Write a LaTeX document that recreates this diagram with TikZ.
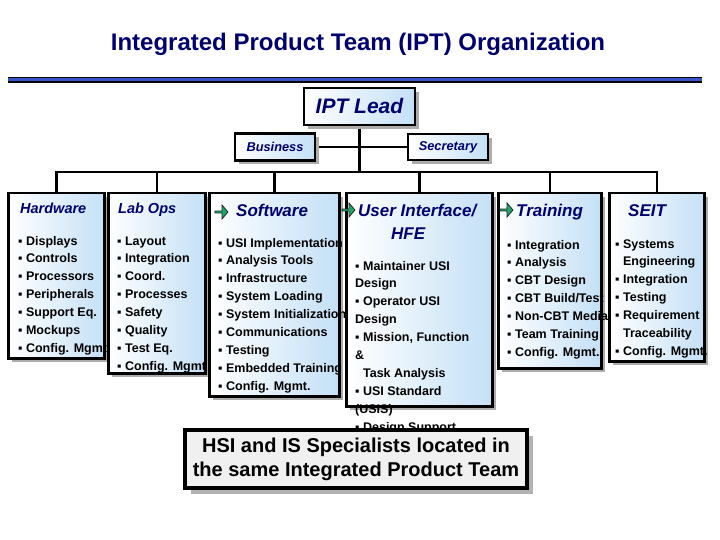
\documentclass[tikz,border=0pt]{standalone}
\usepackage{fontspec}
\setmainfont{Liberation Sans}
\usetikzlibrary{positioning,backgrounds,shadows,shapes.arrows}
\definecolor{navy}{RGB}{0,0,110}
\definecolor{boxblue}{RGB}{196,224,246}
\definecolor{ruleblue}{RGB}{55,85,200}
\definecolor{arrowgreen}{RGB}{30,165,110}
\newcommand\bul{▪\ }
\newcommand\busy{172}
\newcommand\boxtop{192}

\begin{document}
\begin{tikzpicture}[x=1pt,y=-1pt,
    orgbox/.style={draw,line width=2.5pt,left color=white,right color=boxblue,
      drop shadow={shadow xshift=4pt,shadow yshift=-4pt,fill=gray!65,opacity=1},
      inner sep=0pt},
    teambox/.style={orgbox,anchor=north west},
    teamhead/.style={anchor=base west,inner sep=0pt,text=navy,align=left,
      font=\bfseries\itshape\fontsize{17}{24}\selectfont},
    smallhead/.style={teamhead,font=\bfseries\itshape\fontsize{14.5}{17}\selectfont},
    teamlist/.style={anchor=base west,inner sep=0pt,align=left,
      font=\bfseries\fontsize{12.5}{17.9}\selectfont},
    greenarrow/.style={single arrow,draw=black!85,fill=arrowgreen,line width=0.8pt,
      minimum height=13pt,minimum width=14pt,single arrow head extend=2.5pt,
      single arrow tip angle=100,inner sep=0pt},
    orgline/.style={line width=2.5pt,line join=miter}
  ]
  \useasboundingbox (0,0) rectangle (720,540);

  % title and rule
  \node[text=navy,font=\bfseries\fontsize{24}{28}\selectfont] (title) at (358,44)
    {Integrated Product Team (IPT) Organization};
  \coordinate (ruleL) at (8,80);
  \coordinate (ruleR) at (702,80);
  \draw[line width=6pt] (ruleL) -- (ruleR);
  \draw[line width=3pt,ruleblue] (ruleL) -- (ruleR);

  % lead and staff
  \node[orgbox,minimum width=111pt,minimum height=37pt,text=navy,
    font=\bfseries\itshape\fontsize{21}{24}\selectfont] (lead) at (359.5,106.5) {IPT Lead};
  \node[orgbox,minimum width=80pt,minimum height=27pt,text=navy,
    font=\bfseries\itshape\fontsize{12.8}{15}\selectfont] (biz) at (275,147) {Business};
  \node[orgbox,minimum width=80pt,minimum height=26pt,text=navy,
    font=\bfseries\itshape\fontsize{12.8}{15}\selectfont] (sec) at (448,147) {Secretary};
  \coordinate (busmark) at (0,\busy);

  % teams (lists sit on the baseline of their last line)
  \node[teambox,minimum width=96pt,minimum height=165pt] (hw) at (7,\boxtop) {};
  \node[smallhead] (hwhead) at (20,214) {Hardware};
  \node[teamlist] (hwlist) at (18,352.4) {\bul Displays\\\bul Controls\\\bul Processors\\
    \bul Peripherals\\\bul Support Eq.\\\bul Mockups\\\bul Config. Mgmt};

  \node[teambox,minimum width=97pt,minimum height=180pt] (lab) at (107,\boxtop) {};
  \node[smallhead] (labhead) at (118,214) {Lab Ops};
  \node[teamlist] (lablist) at (117,370.3) {\bul Layout\\\bul Integration\\\bul Coord.\\
    \bul Processes\\\bul Safety\\\bul Quality\\\bul Test Eq.\\\bul Config. Mgmt};

  \node[teambox,minimum width=130pt,minimum height=203pt] (sw) at (208,\boxtop) {};
  \node[greenarrow] (swarrow) at (221,212) {};
  \node[teamhead] (swhead) at (236,216) {Software};
  \node[teamlist] (swlist) at (218,390.2) {\bul USI Implementation\\\bul Analysis Tools\\
    \bul Infrastructure\\\bul System Loading\\\bul System Initialization\\
    \bul Communications\\\bul Testing\\\bul Embedded Training\\\bul Config. Mgmt.};

  \node[teambox,minimum width=146pt,minimum height=213pt] (ui) at (345,\boxtop) {};
  \node[greenarrow] (uiarrow) at (348,210) {};
  \node[teamhead] (uihead) at (358,240) {User Interface/\\\hspace{33pt}HFE};
  \node[teamlist] (uilist) at (355,431.1) {\bul Maintainer USI\\Design\\\bul Operator USI\\
    Design\\\bul Mission, Function\\\&\\\phantom{\bul}Task Analysis\\\bul USI Standard\\
    (USIS)\\\bul Design Support};

  \node[teambox,minimum width=103pt,minimum height=175pt] (tr) at (497,\boxtop) {};
  \node[greenarrow] (trarrow) at (506,210) {};
  \node[teamhead] (trhead) at (516,216) {Training};
  \node[teamlist] (trlist) at (507,356.4) {\bul Integration\\\bul Analysis\\\bul CBT Design\\
    \bul CBT Build/Test\\\bul Non-CBT Media\\\bul Team Training\\\bul Config. Mgmt.};

  \node[teambox,minimum width=95pt,minimum height=168pt] (seit) at (608,\boxtop) {};
  \node[teamhead] (seithead) at (628,216) {SEIT};
  \node[teamlist] (seitlist) at (615,355.4) {\bul Systems\\\phantom{\bul}Engineering\\
    \bul Integration\\\bul Testing\\\bul Requirement\\\phantom{\bul}Traceability\\
    \bul Config. Mgmt.};

  % note
  \node[draw,line width=3.5pt,fill=gray!12,minimum width=342pt,minimum height=58pt,
    drop shadow={shadow xshift=6pt,shadow yshift=-6pt,fill=gray!60,opacity=1},
    align=center,font=\bfseries\fontsize{20}{24}\selectfont] (note) at (356,459)
    {HSI and IS Specialists located in\\the same Integrated Product Team};

  % lines
  \begin{scope}[on background layer]
    \draw[orgline] (lead.south) -- (lead.south |- busmark);
    \draw[orgline] (biz.east) -- (sec.west);
    \draw[orgline] (hw.north) -- (hw.north |- busmark) -- (seit.north |- busmark) -- (seit.north);
    \foreach \t in {lab,sw,ui,tr}
      \draw[orgline] (\t.north) -- (\t.north |- busmark);
  \end{scope}
\end{tikzpicture}
\end{document}
